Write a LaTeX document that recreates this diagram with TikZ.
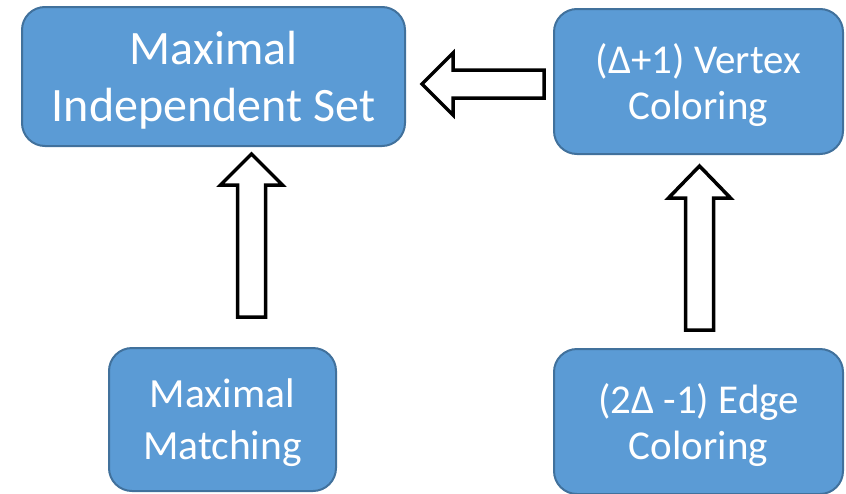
\documentclass[tikz,border=0pt]{standalone}
\usepackage{fontspec}
\setmainfont{Carlito}
\definecolor{boxfill}{HTML}{5B9BD5}
\definecolor{boxborder}{HTML}{41719C}
\newcommand\blkup[4]{% center x, tip y, head-base y, tail y
  \draw[blk] (#1,#2) -- (#1+31,#3) -- (#1+14,#3) -- (#1+14,#4) -- (#1-14,#4) -- (#1-14,#3) -- (#1-31,#3) -- cycle;}
\newcommand\blkleft[4]{% center y, tip x, head-base x, tail x
  \draw[blk] (#2,#1) -- (#3,#1-31) -- (#3,#1-14) -- (#4,#1-14) -- (#4,#1+14) -- (#3,#1+14) -- (#3,#1+31) -- cycle;}
\begin{document}
\begin{tikzpicture}[x=1pt,y=-1pt,
  box/.style={draw=boxborder, fill=boxfill, line width=2pt, rounded corners=23pt,
    text=white, align=center, inner sep=0pt, text depth=0pt},
  blk/.style={draw=black, fill=white, line width=3.5pt, line join=miter}]
\useasboundingbox (0,0) rectangle (846,493);
\node[box, minimum width=383pt, minimum height=139pt,
  font=\fontsize{48}{57}\selectfont] (mis) at (213.5,76.5) {Maximal\\Independent Set};
\node[box, minimum width=289pt, minimum height=145pt,
  font=\fontsize{41}{46}\selectfont] (vc) at (698.5,81.5) {(Δ+1) Vertex\\Coloring};
\node[box, minimum width=227pt, minimum height=143pt,
  font=\fontsize{41.5}{52}\selectfont] (mm) at (222.5,419.5) {Maximal\\Matching};
\node[box, minimum width=289pt, minimum height=145pt,
  font=\fontsize{41}{46}\selectfont] (ec) at (698.5,421.5) {(2Δ -1) Edge\\Coloring};
\blkleft{84}{422}{453}{544}
\blkup{251.5}{154}{185}{317}
\blkup{699.5}{166}{198}{330}
\end{tikzpicture}
\end{document}
